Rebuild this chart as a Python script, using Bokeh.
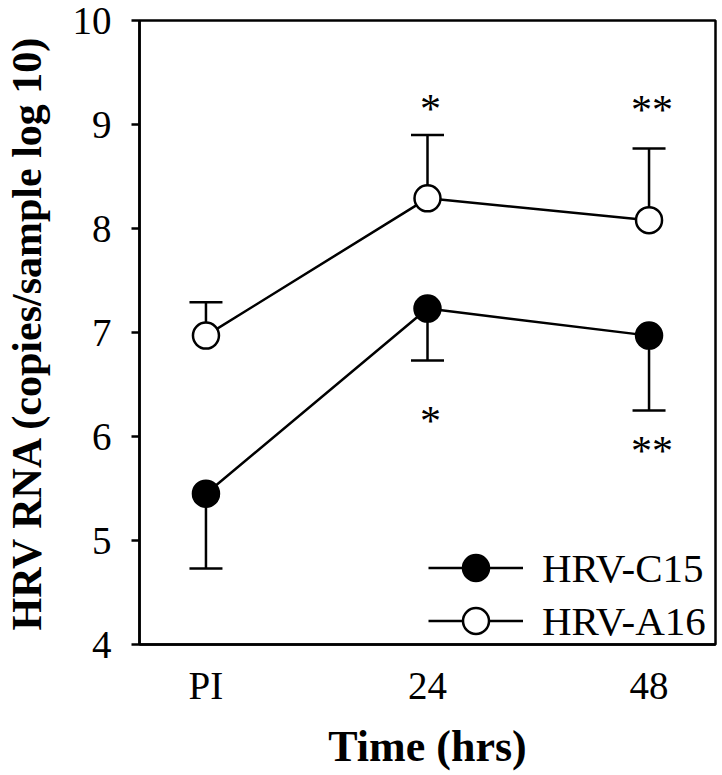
from bokeh.plotting import figure
from bokeh.models import (Range1d, FixedTicker, Whisker, TeeHead, ColumnDataSource,
                          Legend, LegendItem)
from bokeh.core.properties import value
from bokeh.embed import file_html
from bokeh.resources import INLINE

# ---- data ----
categories = ["PI", "24", "48"]
c15_mean = [5.45, 7.23, 6.97]
c15_lower = [4.73, 6.73, 6.25]      # lower error-bar ends (HRV-C15)
a16_mean = [6.97, 8.29, 8.08]
a16_upper = [7.29, 8.90, 8.77]      # upper error-bar ends (HRV-A16)
y_ticks = [4, 5, 6, 7, 8, 9, 10]
sig_cats = ["24", "48"]
sig_labels = ["*", "**"]
sig_upper_y = [9.15, 9.14]
sig_lower_y = [6.15, 5.86]

FONT = "Liberation Serif"
x = [categories.index(c) for c in categories]
sx = [categories.index(c) for c in sig_cats]

p = figure(width=720, height=773, output_backend="svg", toolbar_location=None,
           x_range=Range1d(-0.3, 2.3), y_range=Range1d(4, 10),
           min_border_left=136, min_border_right=5, min_border_top=20,
           min_border_bottom=125)
p.xgrid.visible = False
p.ygrid.visible = False
p.outline_line_color = "black"
p.outline_line_width = 2.5
p.background_fill_color = "white"
p.border_fill_color = "white"

src_c15 = ColumnDataSource(dict(x=x, y=c15_mean, lo=c15_lower))
src_a16 = ColumnDataSource(dict(x=x, y=a16_mean, hi=a16_upper))

w1 = Whisker(source=src_c15, base="x", lower="lo", upper="y", dimension="height",
             lower_head=TeeHead(size=33, line_width=2.5, line_color="black"),
             upper_head=None, line_width=2.5, line_color="black", level="underlay")
w2 = Whisker(source=src_a16, base="x", lower="y", upper="hi", dimension="height",
             upper_head=TeeHead(size=33, line_width=2.5, line_color="black"),
             lower_head=None, line_width=2.5, line_color="black", level="underlay")
p.add_layout(w1)
p.add_layout(w2)

l1 = p.line("x", "y", source=src_c15, line_color="black", line_width=2.5)
s1 = p.scatter("x", "y", source=src_c15, size=26, marker="circle",
               fill_color="black", line_color="black", line_width=2.5)
l2 = p.line("x", "y", source=src_a16, line_color="black", line_width=2.5)
s2 = p.scatter("x", "y", source=src_a16, size=26, marker="circle",
               fill_color="white", line_color="black", line_width=2.5)

for ys in (sig_upper_y, sig_lower_y):
    p.text(x=sx, y=ys, text=sig_labels, text_font=value(FONT),
           text_font_size="42px", text_align="center", text_baseline="alphabetic",
           text_color="black", x_offset=3)

# axes
p.xaxis.ticker = FixedTicker(ticks=x)
p.xaxis.major_label_overrides = {i: c for i, c in zip(x, categories)}
p.yaxis.ticker = FixedTicker(ticks=y_ticks)
for ax in (p.xaxis[0], p.yaxis[0]):
    ax.axis_line_color = "black"
    ax.axis_line_width = 2.5
    ax.major_tick_line_color = "black"
    ax.major_tick_line_width = 2.5
    ax.minor_tick_line_color = None
    ax.major_tick_in = 0
    ax.major_label_text_font = FONT
    ax.major_label_text_font_size = "39px"
    ax.major_label_text_color = "black"
    ax.axis_label_text_font = FONT
    ax.axis_label_text_font_style = "bold"
    ax.axis_label_text_color = "black"
p.xaxis.major_tick_out = 0
p.xaxis.major_label_standoff = 19
p.xaxis.axis_label = "Time (hrs)"
p.xaxis.axis_label_text_font_size = "44px"
p.xaxis.axis_label_standoff = 12
p.yaxis.major_tick_out = 8
p.yaxis.major_label_standoff = 20
p.yaxis.axis_label = "HRV RNA (copies/sample log 10)"
p.yaxis.axis_label_text_font_size = "42px"
p.yaxis.axis_label_standoff = 20

common = dict(glyph_width=95, glyph_height=65, spacing=0,
              label_standoff=19, label_text_font=FONT, label_text_font_size="41px",
              label_text_color="black", background_fill_alpha=0,
              border_line_alpha=0, padding=0, margin=0)
leg1 = Legend(items=[LegendItem(label="HRV-C15", renderers=[l1, s1])],
              location=(289, 44), **common)
leg2 = Legend(items=[LegendItem(label="HRV-A16", renderers=[l2, s2])],
              location=(289, -9), **common)
p.add_layout(leg1)
p.add_layout(leg2)

open("out.html", "w").write(file_html(p, INLINE))
